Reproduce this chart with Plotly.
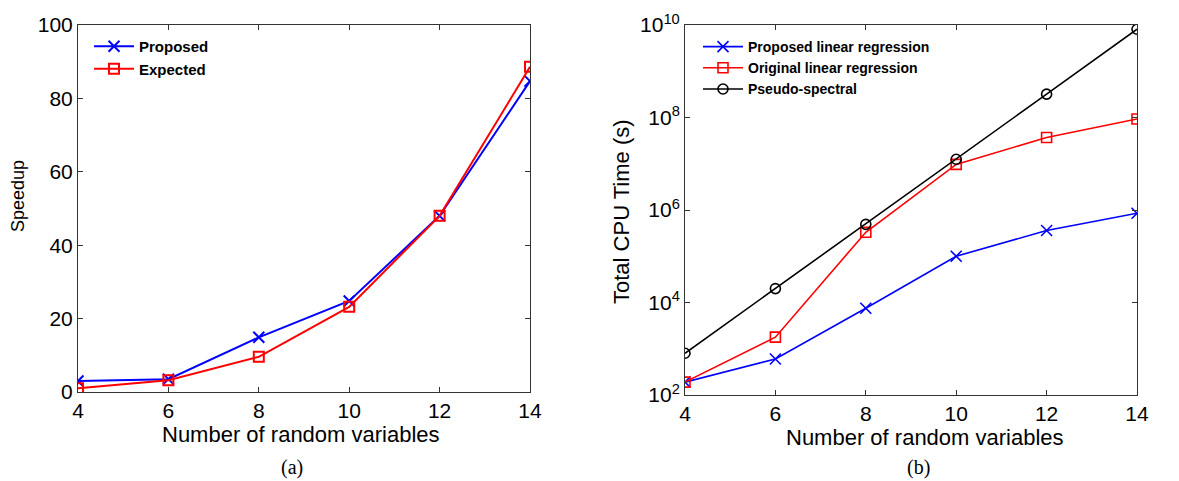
import plotly.graph_objects as go

# ---- data ----
n_vars = [4, 6, 8, 10, 12, 14]

speedup_proposed = [3.0, 3.5, 14.9, 24.8, 48.0, 84.7]
speedup_expected = [1.0, 3.2, 9.6, 23.2, 48.0, 88.6]

cpu_proposed_lr = [190, 600, 7500, 1.0e5, 3.6e5, 8.5e5]
cpu_original_lr = [190, 1780, 3.3e5, 9.7e6, 3.7e7, 9.3e7]
cpu_pseudo_spectral = [800, 2.0e4, 4.9e5, 1.25e7, 3.2e8, 8.1e9]

x_ticks = [4, 6, 8, 10, 12, 14]
y_ticks_a = [0, 20, 40, 60, 80, 100]
y_ticks_b = [1e2, 1e4, 1e6, 1e8, 1e10]
y_ticktext_b = ["10<sup>2</sup>", "10<sup>4</sup>", "10<sup>6</sup>", "10<sup>8</sup>", "10<sup>10</sup>"]

W, H = 1179, 481
FONT = "Liberation Sans, Arial, sans-serif"
SERIF = "Liberation Serif, Times New Roman, serif"
AXCOL = "#333333"

fig = go.Figure()

# ---- panel (a) ----
fig.add_trace(go.Scatter(x=n_vars, y=speedup_proposed, mode="lines+markers", name="Proposed",
                         line=dict(color="#0000ff", width=2),
                         marker=dict(symbol="x-thin-open", size=11, line=dict(color="#0000ff", width=2)),
                         xaxis="x", yaxis="y", legend="legend"))
fig.add_trace(go.Scatter(x=n_vars, y=speedup_expected, mode="lines+markers", name="Expected",
                         line=dict(color="#ff0000", width=2),
                         marker=dict(symbol="square-open", size=10, line=dict(color="#ff0000", width=2)),
                         xaxis="x", yaxis="y", legend="legend"))

# ---- panel (b) ----
fig.add_trace(go.Scatter(x=n_vars, y=cpu_proposed_lr, mode="lines+markers", name="Proposed linear regression",
                         line=dict(color="#0000ff", width=1.6),
                         marker=dict(symbol="x-thin-open", size=11, line=dict(color="#0000ff", width=1.6)),
                         xaxis="x2", yaxis="y2", legend="legend2"))
fig.add_trace(go.Scatter(x=n_vars, y=cpu_original_lr, mode="lines+markers", name="Original linear regression",
                         line=dict(color="#ff0000", width=1.6),
                         marker=dict(symbol="square-open", size=10, line=dict(color="#ff0000", width=1.6)),
                         xaxis="x2", yaxis="y2", legend="legend2"))
fig.add_trace(go.Scatter(x=n_vars, y=cpu_pseudo_spectral, mode="lines+markers", name="Pseudo-spectral",
                         line=dict(color="#000000", width=1.6),
                         marker=dict(symbol="circle-open", size=10, line=dict(color="#000000", width=1.6)),
                         xaxis="x2", yaxis="y2", legend="legend2"))

axis_common = dict(showgrid=False, zeroline=False, showline=True, linecolor=AXCOL, linewidth=1,
                   mirror="ticks", ticks="inside", ticklen=5, tickcolor=AXCOL, automargin=False,
                   tickfont=dict(family=FONT, size=21, color="#000000"))

fig.update_layout(
    width=W, height=H,
    margin=dict(l=0, r=0, t=0, b=0, pad=0, autoexpand=False),
    paper_bgcolor="white", plot_bgcolor="white",
    showlegend=True,
    xaxis=dict(domain=[78 / W, 530 / W], range=[4, 14], tickmode="array", tickvals=x_ticks,
               anchor="y", **axis_common),
    yaxis=dict(domain=[1 - 392 / H, 1 - 25 / H], range=[0, 100], tickmode="array", tickvals=y_ticks_a,
               anchor="x", **axis_common),
    xaxis2=dict(domain=[685 / W, 1137 / W], range=[4, 14], tickmode="array", tickvals=x_ticks,
                anchor="y2", **axis_common),
    yaxis2=dict(domain=[1 - 395 / H, 1 - 25 / H], type="log", range=[2, 10], tickmode="array",
                tickvals=y_ticks_b, ticktext=y_ticktext_b, anchor="x2", **axis_common),
    legend=dict(x=89 / W, y=1 - 30 / H, xanchor="left", yanchor="top", bgcolor="rgba(0,0,0,0)",
                font=dict(family=FONT, size=15, color="#000000", weight="bold"),
                tracegroupgap=0, itemwidth=40),
    legend2=dict(x=698 / W, y=1 - 31 / H, xanchor="left", yanchor="top", bgcolor="rgba(0,0,0,0)",
                 font=dict(family=FONT, size=14, color="#000000", weight="bold"),
                 tracegroupgap=0, itemwidth=40),
    annotations=[
        dict(text="Number of random variables", x=301 / W, y=1 - 434 / H, xref="paper", yref="paper",
             xanchor="center", yanchor="middle",
             showarrow=False, font=dict(family=FONT, size=22, color="#000000")),
        dict(text="Number of random variables", x=925 / W, y=1 - 437 / H, xref="paper", yref="paper",
             xanchor="center", yanchor="middle",
             showarrow=False, font=dict(family=FONT, size=22, color="#000000")),
        dict(text="Speedup", x=18 / W, y=1 - 196 / H, xref="paper", yref="paper", textangle=-90,
             xanchor="center", yanchor="middle",
             showarrow=False, font=dict(family=FONT, size=18, color="#000000")),
        dict(text="Total CPU Time (s)", x=621 / W, y=1 - 212 / H, xref="paper", yref="paper", textangle=-90,
             xanchor="center", yanchor="middle",
             showarrow=False, font=dict(family=FONT, size=22, color="#000000")),
        dict(text="(a)", x=292 / W, y=1 - 467 / H, xref="paper", yref="paper",
             xanchor="center", yanchor="middle",
             showarrow=False, font=dict(family=SERIF, size=20, color="#000000")),
        dict(text="(b)", x=918 / W, y=1 - 467 / H, xref="paper", yref="paper",
             xanchor="center", yanchor="middle",
             showarrow=False, font=dict(family=SERIF, size=20, color="#000000")),
    ],
)

fig.write_html("out.html")
